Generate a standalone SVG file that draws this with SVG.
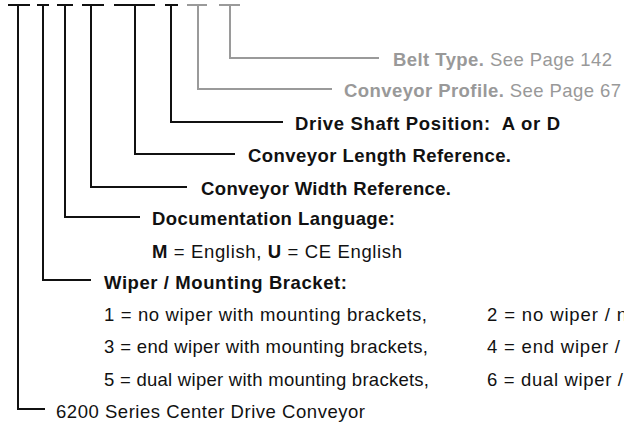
<svg xmlns="http://www.w3.org/2000/svg" width="624" height="423" viewBox="0 0 624 423">
  <style>
    .ln { fill: none; stroke: #111; stroke-width: 2; stroke-linejoin: miter; stroke-linecap: butt; }
    .ln.g { stroke: #9a9a9a; }
    text { font-family: "Liberation Sans", Arial, sans-serif; font-size: 18.5px; fill: #111; }
    .b { font-weight: bold; }
    text.g { fill: #999; }
  </style>
  <rect width="624" height="423" fill="#fff"/>

  <!-- code position brackets: top bar, stem down, leader out to the label -->
  <g id="connectors">
    <path class="ln" d="M8 5H30M18 5V409H45"/>
    <path class="ln" d="M37 5H49M43 5V280H91"/>
    <path class="ln" d="M57 5H73M65 5V217H140"/>
    <path class="ln" d="M82 5H104M91 5V187H187"/>
    <path class="ln" d="M114 5H155M135 5V154H235"/>
    <path class="ln" d="M165 5H178M171 5V122H283"/>
    <path class="ln g" d="M187 5H207M198 5V89H332"/>
    <path class="ln g" d="M219 5H240M230 5V58H379"/>
  </g>

  <g id="belt-type">
    <text class="g" x="393" y="66" textLength="219" lengthAdjust="spacing"><tspan class="b">Belt Type.</tspan> See Page 142</text>
  </g>
  <g id="conveyor-profile">
    <text class="g" x="344" y="97" textLength="277" lengthAdjust="spacing"><tspan class="b">Conveyor Profile.</tspan> See Page 67</text>
  </g>
  <g id="drive-shaft">
    <text class="b" x="295" y="130" textLength="265" lengthAdjust="spacing" xml:space="preserve">Drive Shaft Position:  A or D</text>
  </g>
  <g id="conveyor-length">
    <text class="b" x="248" y="162" textLength="263" lengthAdjust="spacing">Conveyor Length Reference.</text>
  </g>
  <g id="conveyor-width">
    <text class="b" x="201" y="195" textLength="250" lengthAdjust="spacing">Conveyor Width Reference.</text>
  </g>
  <g id="documentation-language">
    <text class="b" x="152" y="225" textLength="243" lengthAdjust="spacing">Documentation Language:</text>
    <text x="152" y="258" textLength="250" lengthAdjust="spacing"><tspan class="b">M</tspan> = English, <tspan class="b">U</tspan> = CE English</text>
  </g>
  <g id="wiper-bracket">
    <text class="b" x="104" y="289" textLength="243" lengthAdjust="spacing">Wiper / Mounting Bracket:</text>
    <text x="104" y="321" textLength="323" lengthAdjust="spacing">1 = no wiper with mounting brackets,</text>
    <text x="104" y="353" textLength="324" lengthAdjust="spacing">3 = end wiper with mounting brackets,</text>
    <text x="104" y="386" textLength="325" lengthAdjust="spacing">5 = dual wiper with mounting brackets,</text>
    <text x="487" y="321" textLength="140" lengthAdjust="spacing">2 = no wiper / n</text>
    <text x="487" y="353" textLength="133" lengthAdjust="spacing">4 = end wiper /</text>
    <text x="487" y="386" textLength="136" lengthAdjust="spacing">6 = dual wiper /</text>
  </g>
  <g id="series">
    <text x="56" y="418" textLength="309" lengthAdjust="spacing">6200 Series Center Drive Conveyor</text>
  </g>
</svg>
